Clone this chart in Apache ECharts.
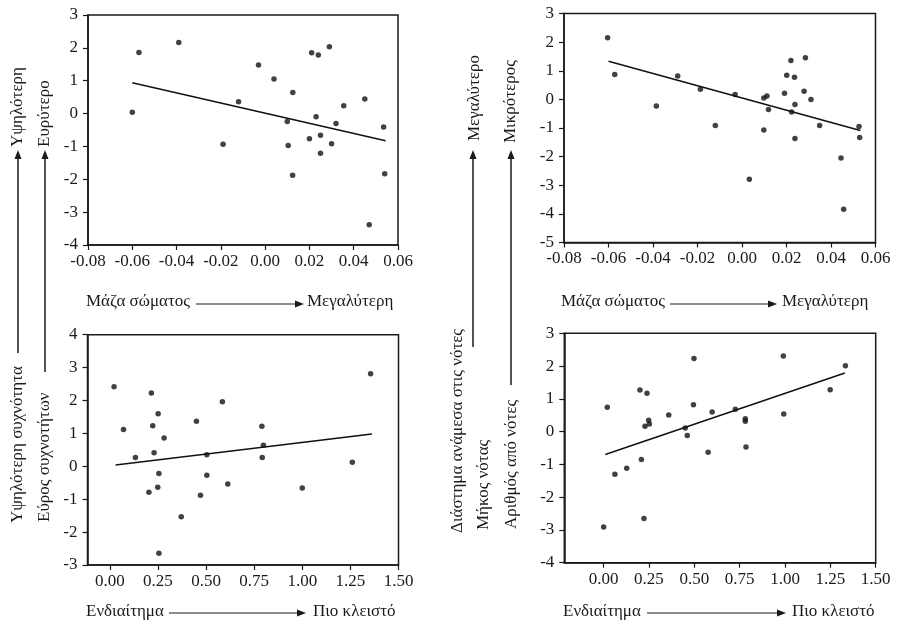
<!DOCTYPE html>
<html>
<head>
<meta charset="utf-8">
<script src="https://cdn.jsdelivr.net/npm/echarts@6/dist/echarts.min.js"></script>
<style>
html, body { margin: 0; padding: 0; background: #fff; }
#chart { width: 898px; height: 624px; }
</style>
</head>
<body>
<div id="chart"></div>
<script>
// Μάζα σώματος vs συχνότητα / εύρος (πάνω αριστερά)
var massFreq = [
  [-0.060, 0.04], [-0.057, 1.86], [-0.039, 2.16], [-0.019, -0.93], [-0.012, 0.36],
  [-0.003, 1.48], [0.004, 1.05], [0.0125, 0.64], [0.010, -0.24], [0.0104, -0.97],
  [0.0124, -1.88], [0.021, 1.85], [0.024, 1.78], [0.029, 2.03], [0.023, -0.10],
  [0.020, -0.77], [0.025, -0.66], [0.025, -1.21], [0.030, -0.92], [0.032, -0.30],
  [0.0355, 0.24], [0.045, 0.44], [0.0535, -0.41], [0.054, -1.83], [0.047, -3.38]
];
var massFreqFit = [[-0.060, 0.94], [0.0544, -0.83]];

// Μάζα σώματος vs νότες (πάνω δεξιά)
var massNotes = [
  [-0.0604, 2.15], [-0.0572, 0.87], [-0.0385, -0.23], [-0.0289, 0.82], [-0.0187, 0.35],
  [-0.0120, -0.91], [-0.0031, 0.17], [0.0033, -2.79], [0.0098, 0.05], [0.0112, 0.12],
  [0.0119, -0.35], [0.0098, -1.07], [0.0191, 0.21], [0.0201, 0.84], [0.0220, 1.36],
  [0.0236, 0.77], [0.0238, -0.18], [0.0223, -0.44], [0.0238, -1.37], [0.0279, 0.28],
  [0.0285, 1.45], [0.0310, 0.00], [0.0349, -0.91], [0.0445, -2.05], [0.0457, -3.84],
  [0.0526, -0.95], [0.0529, -1.33]
];
var massNotesFit = [[-0.060, 1.33], [0.0532, -1.09]];

// Ενδιαίτημα vs συχνότητα (κάτω αριστερά)
var habitatFreq = [
  [0.022, 2.42], [0.071, 1.12], [0.133, 0.27], [0.203, -0.79], [0.216, 2.23],
  [0.223, 1.23], [0.230, 0.41], [0.251, 1.60], [0.255, -0.22], [0.249, -0.64],
  [0.255, -2.64], [0.282, 0.86], [0.371, -1.53], [0.450, 1.37], [0.471, -0.88],
  [0.504, 0.35], [0.504, -0.27], [0.585, 1.96], [0.613, -0.54], [0.790, 1.22],
  [0.798, 0.64], [0.792, 0.27], [1.000, -0.66], [1.260, 0.12], [1.355, 2.81]
];
var habitatFreqFit = [[0.03, 0.04], [1.362, 0.98]];

// Ενδιαίτημα vs νότες (κάτω δεξιά)
var habitatNotes = [
  [0.000, -2.91], [0.020, 0.74], [0.062, -1.30], [0.127, -1.12], [0.200, 1.27],
  [0.208, -0.85], [0.239, 1.17], [0.228, 0.16], [0.248, 0.35], [0.252, 0.23],
  [0.222, -2.65], [0.359, 0.51], [0.450, 0.11], [0.461, -0.12], [0.498, 2.23],
  [0.495, 0.82], [0.576, -0.63], [0.598, 0.60], [0.726, 0.68], [0.781, 0.39],
  [0.781, 0.32], [0.785, -0.47], [0.991, 2.31], [0.993, 0.54], [1.249, 1.28],
  [1.333, 2.01]
];
var habitatNotesFit = [[0.009, -0.70], [1.33, 1.79]];

var habitatTicks = [0, 0.25, 0.5, 0.75, 1, 1.25, 1.5];

var FONT = 'Liberation Serif';
var INK = '#1a1a1a';

var chart = echarts.init(document.getElementById('chart'));

function xAxisOf(idx, min, max, interval, ticks) {
  var ax = {
    type: 'value', gridIndex: idx, min: min, max: max,
    splitLine: { show: false },
    axisLine: { show: true, onZero: false, lineStyle: { color: INK, width: 1.5 } },
    axisTick: { show: true, length: 5, lineStyle: { color: INK, width: 1.2 } },
    axisLabel: {
      color: INK, fontFamily: FONT, fontSize: 17, margin: 8,
      formatter: function (v) { return v.toFixed(2); }
    }
  };
  if (interval) ax.interval = interval;
  if (ticks) {
    ax.axisTick.customValues = ticks;
    ax.axisLabel.customValues = ticks;
  }
  return ax;
}

function yAxisOf(idx, min, max) {
  return {
    type: 'value', gridIndex: idx, min: min, max: max, interval: 1,
    splitLine: { show: false },
    axisLine: { show: true, onZero: false, lineStyle: { color: INK, width: 1.5 } },
    axisTick: { show: true, length: 5, lineStyle: { color: INK, width: 1.2 } },
    axisLabel: { color: INK, fontFamily: FONT, fontSize: 17, margin: 10 }
  };
}

function dots(idx, data) {
  return {
    type: 'scatter', xAxisIndex: idx, yAxisIndex: idx, data: data,
    symbolSize: 5.5, itemStyle: { color: '#111' }, silent: true
  };
}

function fit(idx, data) {
  return {
    type: 'line', xAxisIndex: idx, yAxisIndex: idx, data: data,
    showSymbol: false, lineStyle: { color: '#111', width: 1.5 }, silent: true
  };
}

function txt(s, x, y, rot, align) {
  return {
    type: 'text', x: x, y: y, rotation: rot || 0, silent: true,
    style: {
      text: s, fill: INK, font: '17px "' + FONT + '"',
      textAlign: align || 'left', textVerticalAlign: 'middle'
    }
  };
}

function hArrow(x1, x2, y) {
  return [
    { type: 'line', silent: true, shape: { x1: x1, y1: y, x2: x2 - 6, y2: y }, style: { stroke: INK, lineWidth: 1.2 } },
    { type: 'polygon', silent: true, shape: { points: [[x2, y], [x2 - 9, y - 3.5], [x2 - 9, y + 3.5]] }, style: { fill: INK } }
  ];
}

function vArrow(x, yTip, yEnd) {
  return [
    { type: 'line', silent: true, shape: { x1: x, y1: yTip + 6, x2: x, y2: yEnd }, style: { stroke: INK, lineWidth: 1.5 } },
    { type: 'polygon', silent: true, shape: { points: [[x, yTip], [x - 3.5, yTip + 9], [x + 3.5, yTip + 9]] }, style: { fill: INK } }
  ];
}

var up = Math.PI / 2;
var graphics = [
  // x-axis captions
  txt('Μάζα σώματος', 86, 302), txt('Μεγαλύτερη', 307, 302),
  txt('Ενδιαίτημα', 86, 612), txt('Πιο κλειστό', 313, 612),
  txt('Μάζα σώματος', 561, 302), txt('Μεγαλύτερη', 782, 302),
  txt('Ενδιαίτημα', 563, 612), txt('Πιο κλειστό', 792, 612),
  // left vertical captions
  txt('Υψηλότερη', 18, 147, up), txt('Υψηλότερη συχνότητα', 18, 523, up),
  txt('Ευρύτερο', 45, 147, up), txt('Εύρος συχνοτήτων', 45, 522, up),
  // right vertical captions
  txt('Μεγαλύτερο', 475, 141, up), txt('Μικρότερος', 511, 143, up),
  txt('Διάστημα ανάμεσα στις νότες', 458, 533, up),
  txt('Μήκος νότας', 484, 530, up),
  txt('Αριθμός από νότες', 512, 529, up)
].concat(
  hArrow(196, 304, 304), hArrow(169, 306, 613),
  hArrow(670, 777, 304), hArrow(647, 786, 613),
  vArrow(18, 150, 353), vArrow(45, 150, 372),
  vArrow(473, 150, 347), vArrow(511, 150, 385)
);

var option = {
  backgroundColor: '#fff',
  animation: false,
  grid: [
    { left: 88, top: 15, width: 310, height: 230, show: true, borderColor: INK, borderWidth: 1.5 },
    { left: 564, top: 13.5, width: 311.5, height: 229, show: true, borderColor: INK, borderWidth: 1.5 },
    { left: 87.5, top: 334.7, width: 311, height: 230.3, show: true, borderColor: INK, borderWidth: 1.5 },
    { left: 564.3, top: 333.3, width: 311.4, height: 229.4, show: true, borderColor: INK, borderWidth: 1.5 }
  ],
  xAxis: [
    xAxisOf(0, -0.08, 0.06, 0.02),
    xAxisOf(1, -0.08, 0.06, 0.02),
    xAxisOf(2, -0.116, 1.5, null, habitatTicks),
    xAxisOf(3, -0.217, 1.5, null, habitatTicks)
  ],
  yAxis: [
    yAxisOf(0, -4, 3),
    yAxisOf(1, -5, 3),
    yAxisOf(2, -3, 4),
    yAxisOf(3, -4, 3)
  ],
  series: [
    dots(0, massFreq), fit(0, massFreqFit),
    dots(1, massNotes), fit(1, massNotesFit),
    dots(2, habitatFreq), fit(2, habitatFreqFit),
    dots(3, habitatNotes), fit(3, habitatNotesFit)
  ],
  graphic: graphics
};

chart.setOption(option);
</script>
</body>
</html>
